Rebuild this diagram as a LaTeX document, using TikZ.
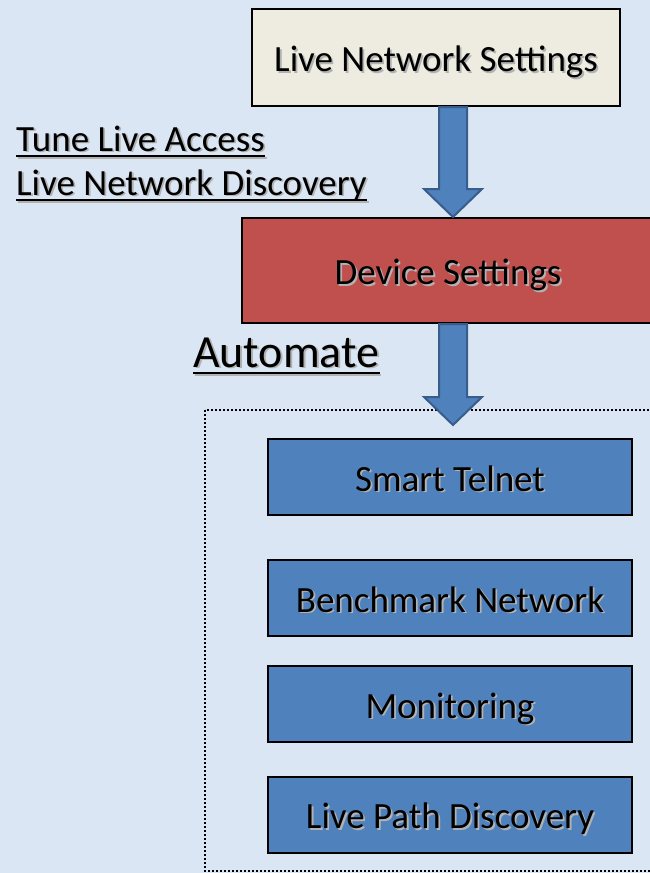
\documentclass[tikz,border=0pt]{standalone}
\usepackage{fontspec}
\setmainfont{Carlito}
\usetikzlibrary{calc}

\definecolor{fond}{RGB}{218,230,244}
\definecolor{beige}{RGB}{238,236,225}
\definecolor{rouge}{RGB}{192,80,77}
\definecolor{bleu}{RGB}{79,129,189}
\definecolor{bleufonce}{RGB}{56,93,138}

% texte avec une ombre portée grise
\newcommand\ombre[1]{\leavevmode\rlap{\kern1.8pt\raisebox{-1.8pt}{\color{black!30}#1}}#1}

% flèche large entre deux points
\newcommand\fleche[2]{%
  \draw[flechebloc] let \p1=(#1), \p2=(#2) in
    (\x1-14pt,\y1) -- (\x1-14pt,\y2+28pt) -- (\x1-29pt,\y2+28pt) -- (\x2,\y2)
    -- (\x1+29pt,\y2+28pt) -- (\x1+14pt,\y2+28pt) -- (\x1+14pt,\y1) -- cycle;}

\begin{document}
\begin{tikzpicture}[x=1pt,y=-1pt]
\tikzset{
  boite/.style={draw=black, line width=2pt, inner sep=0pt,
    text height=33pt, text depth=5pt,
    font=\fontsize{37}{44}\selectfont},
  etiquette/.style={anchor=base west, inner sep=0pt,
    font=\fontsize{37}{44}\selectfont},
  flechebloc/.style={fill=bleu, draw=bleufonce, line width=2pt, line join=miter},
  souligne/.style={line width=2.5pt}
}

 % fond et cadrage
  \useasboundingbox (0,0) rectangle (650,873);
  \clip (0,0) rectangle (650,873);
  \fill[fond] (0,0) rectangle (650,873);

 % cadre pointillé du groupe
  \draw[dotted, line width=2pt] (205,410) rectangle (700,871);

 % les boîtes
  \node[boite, fill=beige, minimum width=368pt, minimum height=97pt] (lns) at (436,57.5)
    {\ombre{Live Network Settings}};
  \node[boite, fill=rouge, minimum width=412pt, minimum height=105pt] (dev) at (448,270.5)
    {\ombre{Device Settings}};
  \node[boite, fill=bleu, minimum width=364pt, minimum height=76pt] (tel) at (450,477)
    {\ombre{Smart Telnet}\hspace{10pt}};
  \node[boite, fill=bleu, minimum width=364pt, minimum height=76pt] (bench) at (450,598)
    {\ombre{Benchmark Network}};
  \node[boite, fill=bleu, minimum width=364pt, minimum height=76pt] (mon) at (450,704)
    {\ombre{Monitoring}};
  \node[boite, fill=bleu, minimum width=364pt, minimum height=76pt] (path) at (450,814.5)
    {\ombre{Live Path Discovery}};

 % les flèches
  \coordinate (axe) at (453,0);
  \coordinate (bout) at (453,425);
  \fleche{lns.south -| axe}{dev.north -| axe}
  \fleche{dev.south -| axe}{bout}

 % du texte souligné
  \node[etiquette] (tune) at (16,151) {\ombre{Tune Live Access}};
  \node[etiquette] (disc) at (16,195) {\ombre{Live Network Discovery}};
  \node[etiquette, font=\fontsize{46}{52}\selectfont] (auto) at (193,367) {\ombre{Automate}};
  \foreach \t/\d in {tune/5, disc/5, auto/6}{
    \draw[souligne, black!30] ($(\t.base west)+(1.8,\d+1.8)$) -- ($(\t.base east)+(1.8,\d+1.8)$);
    \draw[souligne] ($(\t.base west)+(0,\d)$) -- ($(\t.base east)+(0,\d)$);
  }
\end{tikzpicture}
\end{document}
